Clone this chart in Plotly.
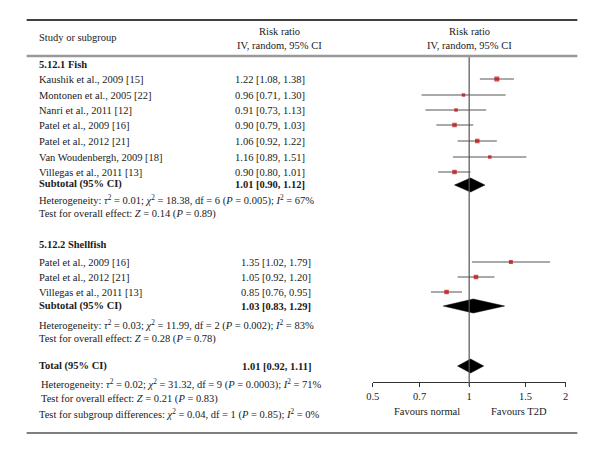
import math

import plotly.graph_objects as go


# Fish subgroup
fish_studies = [
    "Kaushik et al., 2009 [15]",
    "Montonen et al., 2005 [22]",
    "Nanri et al., 2011 [12]",
    "Patel et al., 2009 [16]",
    "Patel et al., 2012 [21]",
    "Van Woudenbergh, 2009 [18]",
    "Villegas et al., 2011 [13]",
]
fish_rr = [1.22, 0.96, 0.91, 0.90, 1.06, 1.16, 0.90]
fish_lo = [1.08, 0.71, 0.73, 0.79, 0.92, 0.89, 0.80]
fish_hi = [1.38, 1.30, 1.13, 1.03, 1.22, 1.51, 1.01]
fish_subtotal = [1.01, 0.90, 1.12]

# Shellfish subgroup
shell_studies = [
    "Patel et al., 2009 [16]",
    "Patel et al., 2012 [21]",
    "Villegas et al., 2011 [13]",
]
shell_rr = [1.35, 1.05, 0.85]
shell_lo = [1.02, 0.92, 0.76]
shell_hi = [1.79, 1.20, 0.95]
shell_subtotal = [1.03, 0.83, 1.29]

total = [1.01, 0.92, 1.11]

tick_vals = [0.5, 0.7, 1, 1.5, 2]
tick_text = ["0.5", "0.7", "1", "1.5", "2"]

# layout (pixel rows, marker sizes)
W, H = 600, 454
fish_rows = [79, 95, 110, 125, 141, 157, 172]
shell_rows = [262, 277, 292]
fish_sizes = [5, 3.5, 3.5, 4.5, 4.5, 3.5, 4.5]
shell_sizes = [4, 4.5, 4.5]
FONT = "Liberation Serif"
FS = 10.5
RED = "#c00000"
GREY = "#555555"
TEXT = "#1a1a1a"


def px(x):
    return x / W


def fmt(v):
    return f"{v[0]:.2f} [{v[1]:.2f}, {v[2]:.2f}]"


fig = go.Figure()

# whiskers
wx, wy = [], []
for lo, hi, y in zip(fish_lo + shell_lo, fish_hi + shell_hi, fish_rows + shell_rows):
    wx += [lo, hi, None]
    wy += [y, y, None]
fig.add_trace(go.Scatter(x=wx, y=wy, mode="lines", line=dict(color=GREY, width=1), hoverinfo="skip"))

# study squares
fig.add_trace(
    go.Scatter(
        x=fish_rr + shell_rr,
        y=fish_rows + shell_rows,
        mode="markers",
        marker=dict(symbol="square", color=RED, size=fish_sizes + shell_sizes, line=dict(width=0)),
    )
)

# pooled diamonds
for est, y in [(fish_subtotal, 185), (shell_subtotal, 306), (total, 366)]:
    half = 7
    fig.add_trace(
        go.Scatter(
            x=[est[1], est[0], est[2], est[0], est[1]],
            y=[y, y - half, y, y + half, y],
            mode="lines",
            fill="toself",
            fillcolor="black",
            line=dict(color="black", width=0.5),
        )
    )

# null line
fig.add_shape(type="line", x0=1, x1=1, y0=56, y1=386, xref="x", yref="y", line=dict(color=GREY, width=1.2))

# rules
fig.add_shape(type="line", x0=px(20), x1=px(580), y0=20, y1=20, xref="paper", yref="y", line=dict(color="black", width=1.5))
fig.add_shape(type="line", x0=px(20), x1=px(580), y0=56, y1=56, xref="paper", yref="y", line=dict(color="#999999", width=2.5))
fig.add_shape(type="line", x0=px(20), x1=px(580), y0=433, y1=433, xref="paper", yref="y", line=dict(color="black", width=1.2))

annotations = []


def label(text, x, y, anchor="left"):
    annotations.append(
        dict(
            text=text, x=px(x), y=y, xref="paper", yref="y", xanchor=anchor, yanchor="middle",
            showarrow=False, font=dict(family=FONT, size=FS, color=TEXT),
        )
    )


# header
label("Study or subgroup", 30, 37)
label("Risk ratio", 277, 31, "center")
label("IV, random, 95% CI", 277, 45, "center")
label("Risk ratio", 470, 31, "center")
label("IV, random, 95% CI", 470, 45, "center")

VX = 267
label("<b>5.12.1 Fish</b>", 30, 64)
for name, rr, lo, hi, y in zip(fish_studies, fish_rr, fish_lo, fish_hi, fish_rows):
    label(name, 30, y)
    label(fmt([rr, lo, hi]), VX, y, "center")
label("<b>Subtotal (95% CI)</b>", 30, 184)
label("<b>" + fmt(fish_subtotal) + "</b>", VX, 184, "center")
label("Heterogeneity: <i>τ</i><sup>2</sup> = 0.01; <i>χ</i><sup>2</sup> = 18.38, df = 6 (<i>P</i> = 0.005); <i>I</i><sup>2</sup> = 67%", 30, 200)
label("Test for overall effect: <i>Z</i> = 0.14 (<i>P</i> = 0.89)", 30, 214)

VX2 = 274
label("<b>5.12.2 Shellfish</b>", 30, 244)
for name, rr, lo, hi, y in zip(shell_studies, shell_rr, shell_lo, shell_hi, shell_rows):
    label(name, 30, y)
    label(fmt([rr, lo, hi]), VX2, y, "center")
label("<b>Subtotal (95% CI)</b>", 30, 306)
label("<b>" + fmt(shell_subtotal) + "</b>", VX2, 306, "center")
label("Heterogeneity: <i>τ</i><sup>2</sup> = 0.03; <i>χ</i><sup>2</sup> = 11.99, df = 2 (<i>P</i> = 0.002); <i>I</i><sup>2</sup> = 83%", 30, 325)
label("Test for overall effect: <i>Z</i> = 0.28 (<i>P</i> = 0.78)", 30, 339)

label("<b>Total (95% CI)</b>", 30, 366)
label("<b>" + fmt(total) + "</b>", VX2, 366, "center")
label("Heterogeneity: <i>τ</i><sup>2</sup> = 0.02; <i>χ</i><sup>2</sup> = 31.32, df = 9 (<i>P</i> = 0.0003); <i>I</i><sup>2</sup> = 71%", 33, 384)
label("Test for overall effect: <i>Z</i> = 0.21 (<i>P</i> = 0.83)", 33, 399)
label("Test for subgroup differences: <i>χ</i><sup>2</sup> = 0.04, df = 1 (<i>P</i> = 0.85); <i>I</i><sup>2</sup> = 0%", 30, 414)

label("Favours normal", 427, 411, "center")
label("Favours T2D", 521, 411, "center")

fig.update_layout(
    width=W,
    height=H,
    margin=dict(l=0, r=0, t=0, b=0),
    paper_bgcolor="white",
    plot_bgcolor="white",
    showlegend=False,
    annotations=annotations,
    xaxis=dict(
        type="log",
        range=[math.log10(0.5), math.log10(2)],
        domain=[372 / W, 568 / W],
        anchor="free",
        position=1 - 382 / H,
        showline=True,
        linecolor="#333333",
        linewidth=1,
        ticks="outside",
        ticklen=4,
        tickcolor="#333333",
        tickvals=tick_vals,
        ticktext=tick_text,
        tickfont=dict(family=FONT, size=FS, color=TEXT),
        showgrid=False,
        zeroline=False,
    ),
    yaxis=dict(range=[H, 0], domain=[0, 1], visible=False, showgrid=False),
)

# the page body has a default 8px margin; drop it so the figure sits at 0,0
fig.write_html(
    "out.html",
    config={"displayModeBar": False},
    post_script="document.body.style.margin='0';",
)
